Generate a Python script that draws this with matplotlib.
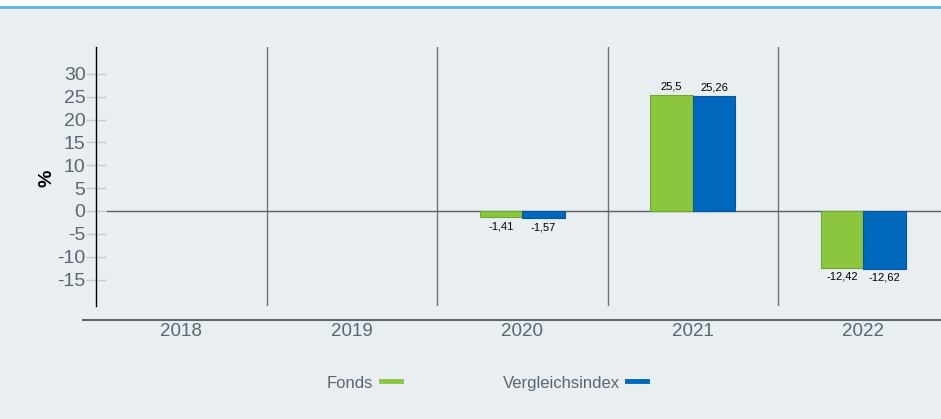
import matplotlib
matplotlib.use("Agg")
import matplotlib.pyplot as plt
from matplotlib.lines import Line2D
import numpy as np

years = ["2018", "2019", "2020", "2021", "2022"]
fonds = [np.nan, np.nan, -1.41, 25.5, -12.42]
index = [np.nan, np.nan, -1.57, 25.26, -12.62]
yticks = [-15, -10, -5, 0, 5, 10, 15, 20, 25, 30]

bg = "#e9eef1"
green = "#8cc63f"
blue = "#0068bd"
txt = "#5a6670"

W, H = 941, 419
fig = plt.figure(figsize=(W / 100, H / 100), dpi=100, facecolor=bg)
plt.rcParams["font.family"] = ["Liberation Sans", "DejaVu Sans"]

# white strip and blue rule at top
fig.patches.append(plt.Rectangle((0, 1 - 6 / H), 1, 6 / H, transform=fig.transFigure, color="white", zorder=0))
fig.lines.append(Line2D([0, 1], [1 - 7 / H, 1 - 7 / H], transform=fig.transFigure, color="#5ab4e5", lw=2))

ax = fig.add_axes([96 / W, 1 - 306 / H, (W - 96) / W, (306 - 47) / H])
ax.set_facecolor(bg)
ax.set_xlim(-0.5, -0.5 + (W - 96) / 170.5)
ax.set_ylim(-20.8, 35.9)

x = np.arange(len(years))
w = 0.25
b1 = ax.bar(x - w / 2, fonds, w, color=green, edgecolor="#6fa830", lw=0.8, zorder=3)
b2 = ax.bar(x + w / 2, index, w, color=blue, edgecolor="#0b5597", lw=0.8, zorder=3)

for bars, vals in ((b1, fonds), (b2, index)):
    for rect, v in zip(bars, vals):
        if np.isnan(v):
            continue
        lab = ("%g" % v).replace(".", ",")
        cx = rect.get_x() + rect.get_width() / 2
        if v >= 0:
            ax.annotate(lab, (cx, v), xytext=(0, 2), textcoords="offset points",
                        ha="center", va="bottom", fontsize=8, color="black")
        else:
            ax.annotate(lab, (cx, v), xytext=(0, -3), textcoords="offset points",
                        ha="center", va="top", fontsize=8, color="black")

ax.axhline(0, xmin=11 / (W - 96), color="#555f66", lw=1, zorder=2)
for s in np.arange(0.5, len(years) - 1, 1):
    ax.axvline(s, color="#6b757c", lw=1, zorder=1)

for side in ("top", "right", "bottom"):
    ax.spines[side].set_visible(False)
ax.spines["left"].set_color("black")
ax.spines["left"].set_linewidth(1)

ax.set_yticks(yticks)
ax.set_yticklabels([str(t) for t in yticks])
ax.tick_params(axis="y", direction="inout", length=15, width=1, color="#c5cbcf",
               labelsize=14, labelcolor=txt, pad=0)
ax.set_xticks(x)
ax.set_xticklabels(years)
ax.tick_params(axis="x", length=0, labelsize=13.5, labelcolor=txt, pad=12.5)

fig.text(47 / W, 1 - 178 / H, "%", rotation=90, fontsize=14, fontweight="bold",
         ha="center", va="center", color="black")

# bottom rule
fig.lines.append(Line2D([83 / W, 1], [1 - 320 / H, 1 - 320 / H], transform=fig.transFigure,
                        color="#5a6670", lw=1.5))

# legend
ly = 1 - 383 / H
fig.text(373 / W, ly, "Fonds", ha="right", va="center", fontsize=12, color=txt)
fig.lines.append(Line2D([381 / W, 401 / W], [1 - 381 / H] * 2, transform=fig.transFigure, color=green, lw=3.5))
fig.text(620 / W, ly, "Vergleichsindex", ha="right", va="center", fontsize=12, color=txt)
fig.lines.append(Line2D([627 / W, 647 / W], [1 - 381 / H] * 2, transform=fig.transFigure, color=blue, lw=3.5))

fig.savefig("out.png", dpi=100, facecolor=bg)
